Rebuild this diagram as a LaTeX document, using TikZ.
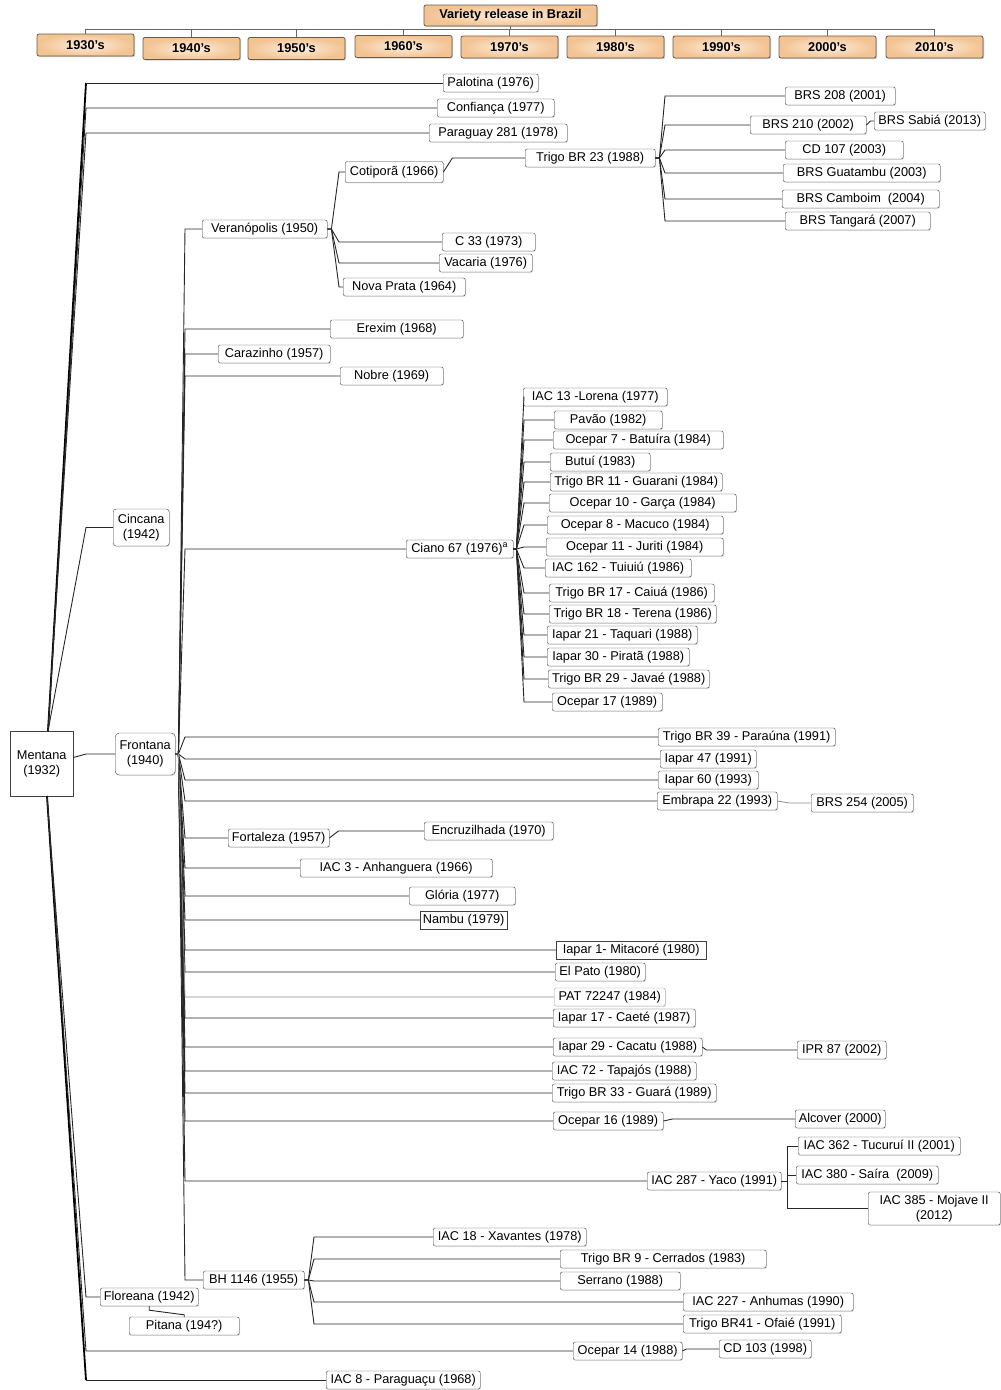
\documentclass[tikz,border=0pt]{standalone}
\usepackage{fontspec}
\setmainfont{Liberation Sans}
\usetikzlibrary{shadows}
\definecolor{peach}{HTML}{F2C393}
\definecolor{peachlight}{HTML}{FDEEDD}
\definecolor{decborder}{HTML}{6B5847}
\definecolor{barline}{HTML}{5E6B6B}
\newcommand{\tfont}{\fontsize{12.75}{15}\selectfont}
\newcommand{\dfont}{\fontsize{12.75}{15}\selectfont\bfseries}
\tikzset{
  cv/.style={draw=black!75, fill=white, rounded corners=2pt, anchor=west,
    minimum height=18, inner xsep=2pt, inner ysep=0pt, font=\tfont, align=center,
    drop shadow={shadow xshift=0.8pt, shadow yshift=-0.8pt, fill=black!25}},
  sq/.style={cv, rounded corners=0pt},
  dec/.style={draw=decborder, line width=0.8pt, rounded corners=2pt,
    inner color=peachlight, outer color=peach, minimum width=97, minimum height=22,
    inner sep=0pt, font=\dfont,
    drop shadow={shadow xshift=1.2pt, shadow yshift=-1.2pt, fill=black!35}},
  link/.style={draw=black!85, line width=0.9pt},
  trunk/.style={draw=black, line width=1.8pt},
  faint/.style={draw=black!45, line width=0.8pt},
  bar/.style={draw=barline, line width=0.9pt}
}
\begin{document}
\begin{tikzpicture}[x=1pt, y=-1pt]
\useasboundingbox (0,0) rectangle (1001,1390);

% header
\node[dec, minimum width=173, minimum height=21] (title) at (510.5,15.5) {Variety release in Brazil};
\node[dec] (d1930) at (85.5,45) {1930's};
\node[dec] (d1940) at (191.5,48.5) {1940's};
\node[dec] (d1950) at (296.5,48.5) {1950's};
\node[dec] (d1960) at (403.5,46.5) {1960's};
\node[dec] (d1970) at (509.5,47) {1970's};
\node[dec] (d1980) at (615.5,47) {1980's};
\node[dec] (d1990) at (721.5,47) {1990's};
\node[dec] (d2000) at (827.5,47) {2000's};
\node[dec] (d2010) at (934.5,47) {2010's};
\coordinate (hbar) at (0,29);
\draw[bar] (title.south) -- (title.south |- hbar);
\draw[bar] (d1930.north |- hbar) -- (d2010.north |- hbar);
\foreach \d in {d1930,d1940,d1950,d1960,d1970,d1980,d1990,d2000,d2010}
  \draw[bar] (\d.north |- hbar) -- (\d.north);

% roots
\node[sq, minimum width=63, minimum height=65] (ment) at (10,763.5) {Mentana\\(1932)};
\node[cv, minimum width=60, minimum height=42, rounded corners=4pt] (fron) at (115,754) {Frontana\\(1940)};
\node[cv, minimum width=56, minimum height=37, rounded corners=3pt] (cinc) at (113,527.5) {Cincana\\(1942)};
\node[cv, minimum width=98] (flo) at (100,1297) {Floreana (1942)};
\node[cv, minimum width=110] (pit) at (129,1326) {Pitana (194?)};

% straight from Mentana
\node[cv, minimum width=95] (palo) at (443,83) {Palotina (1976)};
\node[cv, minimum width=117] (conf) at (437,108) {Confiança (1977)};
\node[cv, minimum width=138] (para) at (429,133) {Paraguay 281 (1978)};
\node[cv, minimum width=109] (oc14) at (573,1351) {Ocepar 14 (1988)};
\node[cv, minimum width=92] (cd103) at (719,1349) {CD 103 (1998)};
\node[cv, minimum width=154] (iac8) at (326,1380) {IAC 8 - Paraguaçu (1968)};

% Veranopolis branch
\node[cv, minimum width=125] (vera) at (202,229) {Veranópolis (1950)};
\node[cv, minimum width=98, minimum height=21] (coti) at (345,172) {Cotiporã (1966)};
\node[cv, minimum width=130] (t23) at (525,158) {Trigo BR 23 (1988)};
\node[cv, minimum width=110] (b208) at (785,96) {BRS 208 (2001)};
\node[cv, minimum width=116] (b210) at (750,125) {BRS 210 (2002)};
\node[cv, minimum width=111] (sabia) at (874,121) {BRS Sabiá (2013)};
\node[cv, minimum width=118] (cd107) at (785,150) {CD 107 (2003)};
\node[cv, minimum width=157] (guat) at (783,173) {BRS Guatambu (2003)};
\node[cv, minimum width=157] (camb) at (782,199) {BRS Camboim~ (2004)};
\node[cv, minimum width=145] (tang) at (785,221) {BRS Tangará (2007)};
\node[cv, minimum width=93] (c33) at (442,242) {C 33 (1973)};
\node[cv, minimum width=93] (vaca) at (439,263) {Vacaria (1976)};
\node[cv, minimum width=122] (nova) at (343,287) {Nova Prata (1964)};

\node[cv, minimum width=133] (erex) at (330,329) {Erexim (1968)};
\node[cv, minimum width=112] (cara) at (218,354) {Carazinho (1957)};
\node[cv, minimum width=103] (nobr) at (340,376) {Nobre (1969)};

% Ciano 67 branch
\node[cv, minimum width=107] (cian) at (406,549) {Ciano 67 (1976)\textsuperscript{a}};
\node[cv, minimum width=144] (lor) at (523,397) {IAC 13 -Lorena (1977)};
\node[cv, minimum width=108] (pav) at (554,420) {Pavão (1982)};
\node[cv, minimum width=170] (bat) at (553,440) {Ocepar 7 - Batuíra (1984)};
\node[cv, minimum width=100] (but) at (550,462) {Butuí (1983)};
\node[cv, minimum width=172] (gua) at (550,482) {Trigo BR 11 - Guarani (1984)};
\node[cv, minimum width=187] (gar) at (549,503) {Ocepar 10 - Garça (1984)};
\node[cv, minimum width=176] (mac) at (547,525) {Ocepar 8 - Macuco (1984)};
\node[cv, minimum width=177] (jur) at (546,547) {Ocepar 11 - Juriti (1984)};
\node[cv, minimum width=146] (tui) at (545,568) {IAC 162 - Tuiuiú (1986)};
\node[cv, minimum width=165] (cai) at (549,593) {Trigo BR 17 - Caiuá (1986)};
\node[cv, minimum width=167] (ter) at (549,614) {Trigo BR 18 - Terena (1986)};
\node[cv, minimum width=150] (taq) at (547,635) {Iapar 21 - Taquari (1988)};
\node[cv, minimum width=142] (pir) at (547,657) {Iapar 30 - Piratã (1988)};
\node[cv, minimum width=161] (jav) at (548,679) {Trigo BR 29 - Javaé (1988)};
\node[cv, minimum width=110] (oc17) at (552,702) {Ocepar 17 (1989)};

% Frontana, direct
\node[cv, minimum width=177] (par) at (658,737) {Trigo BR 39 - Paraúna (1991)};
\node[cv, minimum width=96] (i47) at (660,759) {Iapar 47 (1991)};
\node[cv, minimum width=100] (i60) at (658,780) {Iapar 60 (1993)};
\node[cv, minimum width=120] (emb) at (657,801) {Embrapa 22 (1993)};
\node[cv, minimum width=102] (b254) at (811,803) {BRS 254 (2005)};
\node[cv, minimum width=101] (fort) at (228,838) {Fortaleza (1957)};
\node[cv, minimum width=129] (encr) at (424,831) {Encruzilhada (1970)};
\node[cv, minimum width=192] (anh) at (300,868) {IAC 3 - Anhanguera (1966)};
\node[cv, minimum width=106] (glo) at (409,896) {Glória (1977)};
\node[sq, minimum width=87] (namb) at (420,920) {Nambu (1979)};
\node[sq, minimum width=150] (mit) at (556,950) {Iapar 1- Mitacoré (1980)};
\node[cv, minimum width=90] (elp) at (555,972) {El Pato (1980)};
\node[cv, minimum width=111, draw=black!40] (pat) at (554,997) {PAT 72247 (1984)};
\node[cv, minimum width=142] (cae) at (553,1018) {Iapar 17 - Caeté (1987)};
\node[cv, minimum width=149] (cac) at (553,1047) {Iapar 29 - Cacatu (1988)};
\node[cv, minimum width=89] (ipr) at (797,1050) {IPR 87 (2002)};
\node[cv, minimum width=144] (tap) at (552,1071) {IAC 72 - Tapajós (1988)};
\node[cv, minimum width=164] (grd) at (552,1093) {Trigo BR 33 - Guará (1989)};
\node[cv, minimum width=110] (oc16) at (553,1121) {Ocepar 16 (1989)};
\node[cv, minimum width=90] (alc) at (795,1119) {Alcover (2000)};
\node[cv, minimum width=134] (yaco) at (647,1181) {IAC 287 - Yaco (1991)};
\node[cv, minimum width=162] (tuc) at (798,1146) {IAC 362 - Tucuruí II (2001)};
\node[cv, minimum width=142] (sai) at (796,1175) {IAC 380 - Saíra~ (2009)};
\node[cv, minimum width=132, minimum height=33] (moj) at (868,1208.5) {IAC 385 - Mojave II\\(2012)};

% BH 1146 branch
\node[cv, minimum width=101] (bh) at (203,1280) {BH 1146 (1955)};
\node[cv, minimum width=153] (xav) at (433,1237) {IAC 18 - Xavantes (1978)};
\node[cv, minimum width=206] (cer) at (560,1259) {Trigo BR 9 - Cerrados (1983)};
\node[cv, minimum width=120] (ser) at (560,1281) {Serrano (1988)};
\node[cv, minimum width=170] (anhu) at (683,1302) {IAC 227 - Anhumas (1990)};
\node[cv, minimum width=158] (ofa) at (683,1324) {Trigo BR41 - Ofaié (1991)};

% trunk points
\coordinate (mtop) at (48,731);
\coordinate (mbot) at (47,796);
\coordinate (mx) at (86,0);
\coordinate (fx) at (185,0);
\coordinate (vx) at (339,0);
\coordinate (tx) at (665,0);
\coordinate (cx) at (524,0);
\coordinate (bx) at (314,0);
\coordinate (yx) at (787,0);

% Mentana
\draw[trunk] (mtop) -- (palo.west -| mx);
\draw[link] (palo.west -| mx) -- (palo.west);
\foreach \c in {conf,para,cinc}
  \draw[link] (mtop) -- (\c.west -| mx) -- (\c.west);
\draw[trunk] (mbot) -- (iac8.west -| mx);
\draw[link] (iac8.west -| mx) -- (iac8.west);
\foreach \c in {flo,oc14}
  \draw[link] (mbot) -- (\c.west -| mx) -- (\c.west);
\draw[link] ([yshift=6pt]ment.east) -- (fron.west -| mx) -- (fron.west);
\draw[link] (flo.south) -- ++(0,4) -- ([yshift=2pt]pit.north) -- (pit.north);

% Frontana
\foreach \c in {vera,erex,cara,nobr,cian,par,i47,i60,emb,fort,anh,glo,namb,mit,elp,cae,cac,tap,grd,oc16,yaco,bh}
  \draw[link] (fron.east) -- ++(3,0) -- (\c.west -| fx) -- (\c.west);
\draw[faint] (fron.east) -- ++(3,0) -- (pat.west -| fx) -- (pat.west);

% Veranopolis
\foreach \c in {coti,c33,vaca,nova}
  \draw[link] (vera.east) -- ++(4,0) -- (\c.west -| vx) -- (\c.west);
\draw[link] (coti.east) -- ([xshift=9pt]coti.east |- t23.west) -- (t23.west);
\foreach \c in {b208,b210,cd107,guat,camb,tang}
  \draw[link] (t23.east) -- ++(4,0) -- (\c.west -| tx) -- (\c.west);
\draw[link] (b210.east) -- ([xshift=4pt]b210.east |- sabia.west) -- (sabia.west);

% Ciano 67
\foreach \c in {lor,pav,bat,but,gua,gar,mac,jur,tui,cai,ter,taq,pir,jav,oc17}
  \draw[link] (cian.east) -- ++(3,0) -- (\c.west -| cx) -- (\c.west);

% later crosses
\draw[faint] (emb.east) -- ([xshift=12pt]emb.east |- b254.west) -- (b254.west);
\draw[link] (fort.east) -- ([xshift=9pt]fort.east |- encr.west) -- (encr.west);
\draw[link] (cac.east) -- ([xshift=4pt]cac.east |- ipr.west) -- (ipr.west);
\draw[link] (oc16.east) -- ([xshift=9pt]oc16.east |- alc.west) -- (alc.west);
\draw[link] (oc14.east) -- ([xshift=4pt]oc14.east |- cd103.west) -- (cd103.west);
\foreach \c in {tuc,sai,moj}
  \draw[link] (yaco.east) -- (yaco.east -| yx) -- (\c.west -| yx) -- (\c.west);
\foreach \c in {xav,cer,ser,anhu,ofa}
  \draw[link] (bh.east) -- ++(4,0) -- (\c.west -| bx) -- (\c.west);
\end{tikzpicture}
\end{document}
